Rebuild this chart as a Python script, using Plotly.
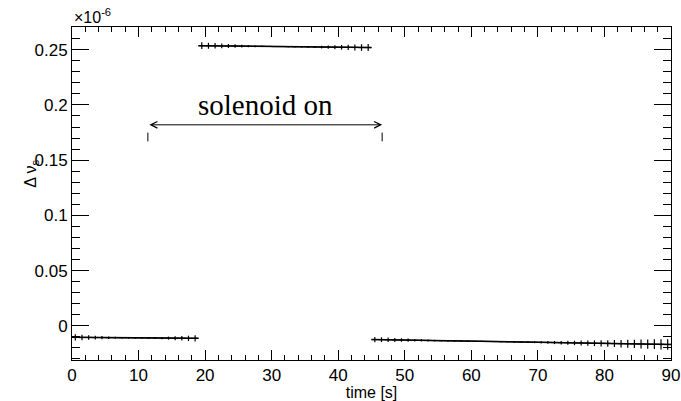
import plotly.graph_objects as go

# ---- data (units of 1e-6) ----
t_off1 = [0.5,1.5,2.5,3.5,4.5,5.5,6.5,7.5,8.5,9.5,10.5,11.5,12.5,13.5,14.5,15.5,16.5,17.5,18.5]
v_off1 = [-0.0105,-0.0106,-0.0106,-0.0107,-0.0107,-0.0108,-0.0108,-0.0109,-0.0109,-0.0110,
          -0.0110,-0.0111,-0.0111,-0.0112,-0.0112,-0.0113,-0.0113,-0.0114,-0.0114]
e_off1 = [0.0028,0.0024,0.0020,0.0017,0.0014,0.0011,0.0009,0.0007,0.0006,0.0005,
          0.0006,0.0007,0.0009,0.0011,0.0014,0.0017,0.0020,0.0024,0.0028]

t_on = [19.5,20.5,21.5,22.5,23.5,24.5,25.5,26.5,27.5,28.5,29.5,30.5,31.5,32.5,33.5,
        34.5,35.5,36.5,37.5,38.5,39.5,40.5,41.5,42.5,43.5,44.5]
v_on = [0.2537,0.2536,0.2536,0.2535,0.2534,0.2534,0.2533,0.2532,0.2531,0.2531,0.2530,
        0.2529,0.2529,0.2528,0.2527,0.2527,0.2526,0.2525,0.2524,0.2524,0.2523,0.2522,
        0.2522,0.2521,0.2520,0.2520]
e_on = [0.0030,0.0027,0.0024,0.0021,0.0018,0.0015,0.0012,0.0010,0.0008,0.0006,0.0005,
        0.0005,0.0005,0.0005,0.0005,0.0006,0.0008,0.0010,0.0012,0.0015,0.0018,0.0021,
        0.0024,0.0027,0.0030,0.0032]

t_off2 = [45.5,46.5,47.5,48.5,49.5,50.5,51.5,52.5,53.5,54.5,55.5,56.5,57.5,58.5,59.5,
          60.5,61.5,62.5,63.5,64.5,65.5,66.5,67.5,68.5,69.5,70.5,71.5,72.5,73.5,74.5,
          75.5,76.5,77.5,78.5,79.5,80.5,81.5,82.5,83.5,84.5,85.5,86.5,87.5,88.5,89.5]
v_off2 = [-0.0125,-0.0126,-0.0127,-0.0128,-0.0129,-0.0130,-0.0131,-0.0132,-0.0133,-0.0134,
          -0.0135,-0.0136,-0.0137,-0.0138,-0.0139,-0.0140,-0.0141,-0.0142,-0.0143,-0.0144,
          -0.0145,-0.0146,-0.0147,-0.0148,-0.0149,-0.0150,-0.0151,-0.0152,-0.0153,-0.0154,
          -0.0155,-0.0156,-0.0157,-0.0158,-0.0159,-0.0160,-0.0161,-0.0162,-0.0163,-0.0164,
          -0.0165,-0.0166,-0.0167,-0.0168,-0.0169]
e_off2 = [0.0024,0.0022,0.0020,0.0018,0.0016,0.0014,0.0012,0.0010,0.0009,0.0008,0.0007,
          0.0006,0.0005,0.0005,0.0005,0.0005,0.0005,0.0005,0.0005,0.0005,0.0005,0.0006,
          0.0007,0.0008,0.0009,0.0010,0.0012,0.0014,0.0016,0.0018,0.0020,0.0022,0.0024,
          0.0026,0.0028,0.0030,0.0032,0.0034,0.0036,0.0038,0.0040,0.0042,0.0044,0.0046,0.0048]

y_tickvals = [0, 0.05, 0.1, 0.15, 0.2, 0.25]
y_ticktext = ["0", "0.05", "0.1", "0.15", "0.2", "0.25"]
x_tickvals = [0, 10, 20, 30, 40, 50, 60, 70, 80, 90]

solenoid_start = 11.4
solenoid_end = 46.6
arrow_y = 0.182

fig = go.Figure()
for tt, vv, ee in [(t_off1, v_off1, e_off1), (t_on, v_on, e_on), (t_off2, v_off2, e_off2)]:
    fig.add_trace(go.Scatter(
        x=tt, y=vv, mode="markers",
        marker=dict(size=1, color="black"),
        error_x=dict(type="constant", value=0.5, color="black", thickness=1.2, width=0),
        error_y=dict(type="data", array=ee, color="black", thickness=1.2, width=0),
        showlegend=False, hoverinfo="skip"))
    fig.add_trace(go.Scatter(
        x=[tt[0] - 0.5, tt[-1] + 0.5], y=[vv[0], vv[-1]], mode="lines",
        line=dict(color="black", width=1.5), showlegend=False, hoverinfo="skip"))

font = "Liberation Sans, Arial, Helvetica, sans-serif"

fig.update_layout(
    width=681, height=401,
    margin=dict(l=72, r=10, t=27, b=41, autoexpand=False),
    paper_bgcolor="white", plot_bgcolor="white",
    font=dict(family=font, size=17, color="black"),
    xaxis=dict(range=[0, 90], tickvals=x_tickvals, ticks="inside", ticklen=10,
               tickwidth=1, tickcolor="black", showline=True, linecolor="black",
               linewidth=1, mirror="allticks", showgrid=False, zeroline=False,
               minor=dict(dtick=2, ticks="inside", ticklen=5, tickcolor="black", showgrid=False),
               title=dict(text="time [s]", font=dict(size=16), standoff=0),
               tickfont=dict(size=17), automargin=False),
    yaxis=dict(range=[-0.031, 0.2706], tickvals=y_tickvals, ticktext=y_ticktext,
               ticks="inside", ticklen=17, tickwidth=1, tickcolor="black",
               showline=True, linecolor="black", linewidth=1, mirror="allticks",
               showgrid=False, zeroline=False,
               minor=dict(dtick=0.01, tick0=0, ticks="inside", ticklen=8, tickcolor="black", showgrid=False),
               tickfont=dict(size=17), automargin=False),
)

fig.add_annotation(xref="paper", yref="paper", x=-0.068, y=0.56, text="Δ ν<sub>s</sub>",
                   textangle=-90, showarrow=False, font=dict(size=16, family=font),
                   xanchor="center", yanchor="middle")
fig.add_annotation(xref="paper", yref="paper", x=0.0, y=1.0, yshift=-1,
                   text="×10<sup>-6</sup>", showarrow=False,
                   font=dict(size=16, family=font), xanchor="left", yanchor="bottom")
fig.add_annotation(x=(solenoid_start + solenoid_end) / 2, y=arrow_y, yshift=2,
                   text="solenoid on", showarrow=False, yanchor="bottom",
                   font=dict(size=29, family="Liberation Serif, Times New Roman, serif"))
fig.add_annotation(x=solenoid_end, y=arrow_y, ax=solenoid_start, ay=arrow_y,
                   xref="x", yref="y", axref="x", ayref="y", text="",
                   showarrow=True, arrowhead=5, startarrowhead=5, arrowside="end+start",
                   arrowsize=1.3, arrowwidth=1, arrowcolor="black", standoff=0, startstandoff=0)
for xv in [solenoid_start, solenoid_end]:
    fig.add_shape(type="line", x0=xv, x1=xv, y0=0.167, y1=0.175,
                  line=dict(color="black", width=1))

fig.write_html("out.html")
